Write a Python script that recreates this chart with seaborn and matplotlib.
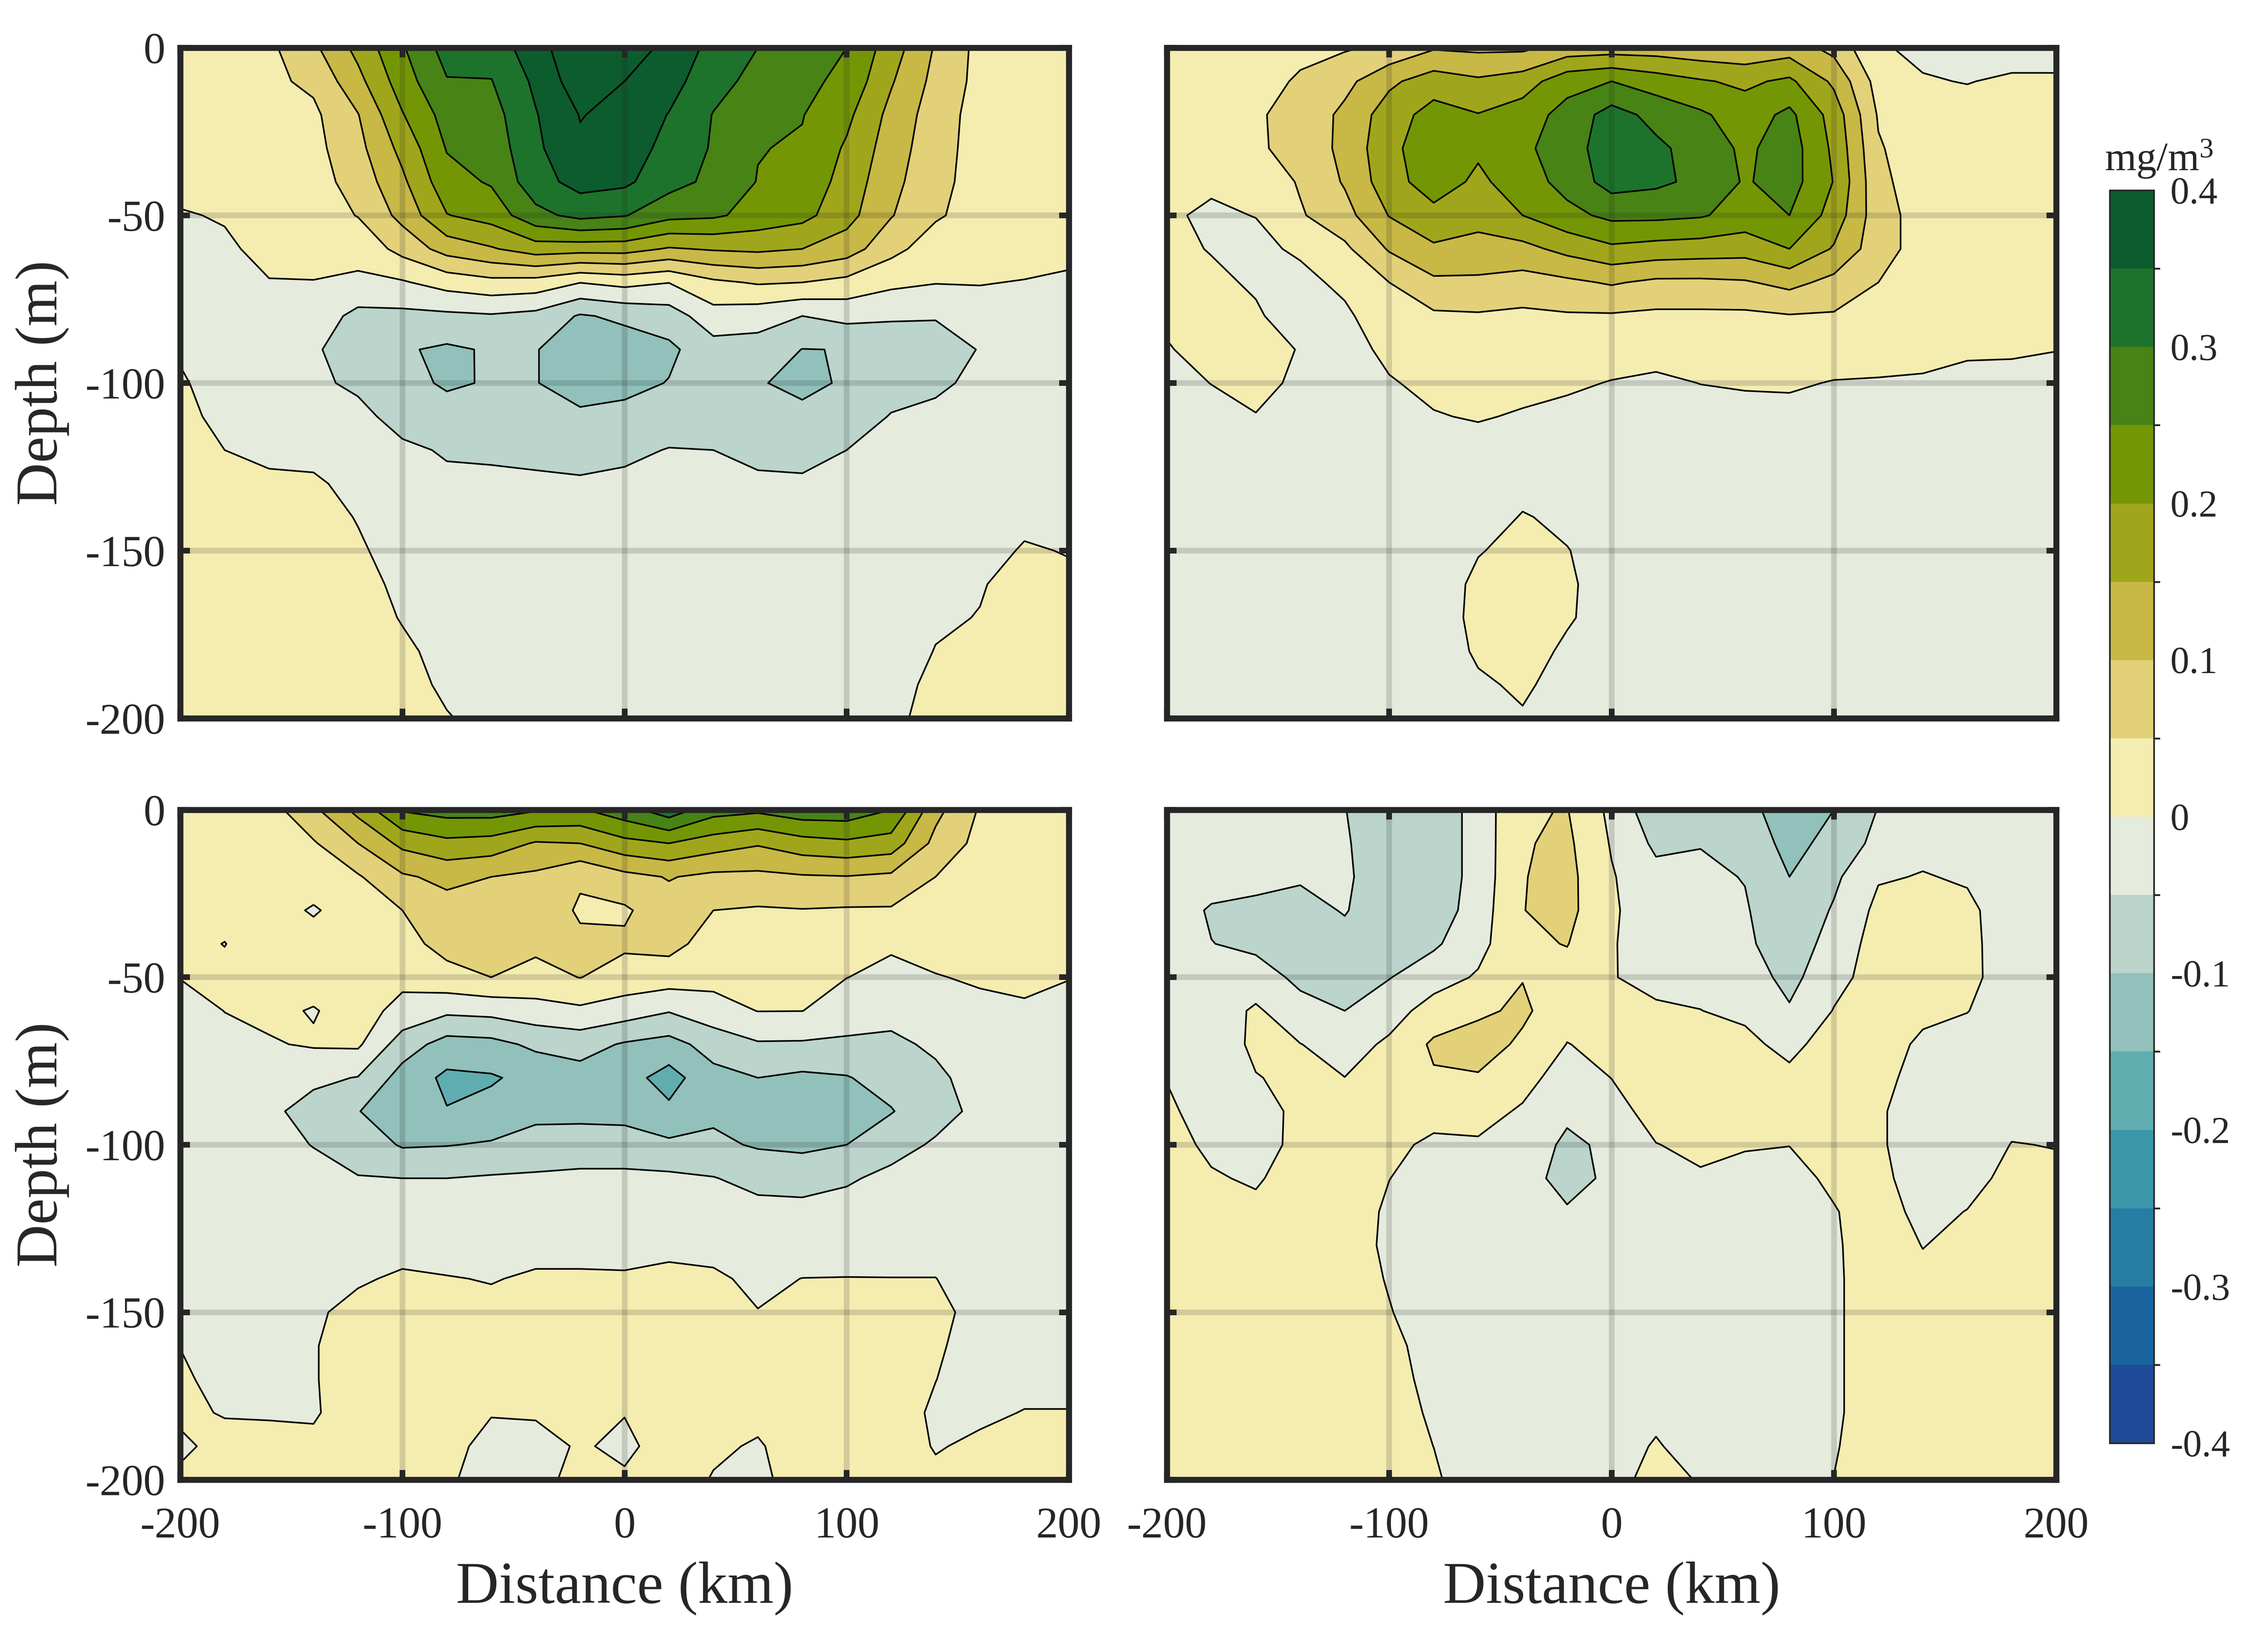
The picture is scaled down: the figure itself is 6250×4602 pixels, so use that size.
import numpy as np
import matplotlib
matplotlib.use('Agg')
import matplotlib.pyplot as plt
from matplotlib.colors import BoundaryNorm, ListedColormap
from matplotlib.cm import ScalarMappable
import seaborn as sns

# grid of the sections
distance = [-200, -180, -160, -140, -120, -100, -80, -60, -40, -20, 0, 20, 40, 60, 80, 100, 120, 140, 160, 180, 200]
depth = [0, -10, -20, -30, -40, -50, -60, -70, -80, -90, -100, -110, -120, -130, -140, -150, -160, -170, -180, -190, -200]

# each inner list is one distance column, from the surface down (mg/m3)
panel_a = [
    [.02, .02, .02, .02, .016, -.004, -.02, -.02, -.02, -.008, .008, .015, .02, .02, .02, .02, .02, .02, .02, .02, .02],
    [.02, .02, .02, .02, .012, .004, -.008, -.02, -.025, -.03, -.03, -.015, 0, .01, .02, .02, .02, .02, .02, .02, .02],
    [.04, .04, .03, .03, .03, .025, .014, -.002, -.02, -.035, -.035, -.03, -.01, .008, .02, .02, .02, .02, .02, .02, .02],
    [.09, .06, .04, .035, .03, .025, .012, -.001, -.02, -.045, -.04, -.035, -.012, .006, .015, .02, .02, .02, .02, .02, .02],
    [.165, .135, .098, .085, .07, .052, .015, -.008, -.065, -.07, -.06, -.035, -.02, -.012, -.002, .005, .015, .015, .015, .015, .015],
    [.245, .226, .197, .165, .14, .115, .067, -.005, -.063, -.095, -.088, -.07, -.04, -.025, -.02, -.015, -.01, -.002, .006, .012, .015],
    [.32, .297, .27, .253, .232, .198, .12, .02, -.06, -.108, -.105, -.085, -.055, -.04, -.03, -.025, -.02, -.015, -.01, -.006, .002],
    [.325, .298, .28, .27, .255, .22, .145, .035, -.055, -.095, -.097, -.075, -.058, -.04, -.03, -.025, -.02, -.018, -.015, -.012, -.01],
    [.375, .36, .347, .34, .33, .285, .175, .03, -.065, -.098, -.098, -.085, -.065, -.04, -.03, -.025, -.02, -.018, -.016, -.015, -.015],
    [.45, .43, .402, .393, .368, .315, .17, .001, -.105, -.125, -.125, -.09, -.065, -.045, -.03, -.025, -.02, -.02, -.02, -.02, -.02],
    [.43, .40, .387, .375, .36, .303, .17, .015, -.09, -.125, -.115, -.085, -.06, -.04, -.03, -.025, -.02, -.02, -.02, -.02, -.02],
    [.385, .37, .348, .335, .318, .265, .145, .001, -.075, -.11, -.098, -.075, -.048, -.035, -.03, -.025, -.02, -.02, -.02, -.02, -.02],
    [.335, .317, .298, .295, .288, .258, .155, .04, -.02, -.07, -.08, -.07, -.05, -.035, -.03, -.025, -.02, -.02, -.02, -.02, -.02],
    [.30, .285, .265, .252, .248, .232, .16, .055, -.03, -.07, -.097, -.08, -.065, -.04, -.03, -.025, -.02, -.02, -.02, -.02, -.02],
    [.272, .262, .252, .245, .235, .215, .15, .05, -.05, -.101, -.11, -.09, -.068, -.042, -.03, -.025, -.02, -.02, -.02, -.02, -.02],
    [.25, .238, .212, .193, .18, .168, .125, .035, -.035, -.099, -.095, -.07, -.05, -.038, -.03, -.025, -.02, -.02, -.018, -.016, -.015],
    [.175, .155, .135, .125, .115, .103, .065, .012, -.045, -.075, -.065, -.048, -.035, -.03, -.025, -.02, -.02, -.018, -.015, -.012, -.008],
    [.095, .085, .075, .07, .065, .056, .025, .002, -.047, -.07, -.058, -.04, -.03, -.025, -.02, -.015, -.01, -.004, .001, .008, .012],
    [.035, .035, .03, .03, .03, .03, .02, .002, -.02, -.048, -.04, -.03, -.02, -.015, -.012, -.008, -.002, .001, .008, .012, .015],
    [.02, .02, .02, .02, .02, .02, .02, -.002, -.02, -.03, -.03, -.025, -.02, -.012, -.005, .002, .01, .015, .02, .02, .02],
    [.01, .01, .01, .01, .01, .01, .01, -.006, -.02, -.03, -.03, -.025, -.02, -.015, -.01, -.001, .004, .01, .015, .015, .015],
]

panel_b = [
    [.02, .02, .02, .02, .012, .005, .01, .015, .005, -.002, -.01, -.015, -.015, -.015, -.015, -.015, -.015, -.015, -.015, -.015, -.015],
    [.025, .025, .025, .02, .006, -.006, -.002, .008, .015, .01, .0005, -.01, -.02, -.02, -.02, -.02, -.02, -.02, -.02, -.02, -.02],
    [.03, .035, .045, .045, .015, .001, -.012, -.005, .005, .015, .015, -.002, -.015, -.02, -.02, -.02, -.02, -.02, -.02, -.02, -.02],
    [.04, .055, .065, .062, .055, .045, .008, -.015, -.02, -.002, -.01, -.02, -.02, -.02, -.02, -.02, -.02, -.02, -.02, -.02, -.02],
    [.045, .085, .112, .115, .105, .082, .04, .012, -.01, -.02, -.02, -.02, -.02, -.02, -.02, -.02, -.02, -.02, -.02, -.02, -.02],
    [.06, .14, .175, .185, .18, .152, .105, .05, .035, .012, -.004, -.015, -.02, -.02, -.02, -.02, -.02, -.02, -.02, -.02, -.02],
    [.095, .175, .22, .235, .225, .185, .142, .09, .042, .03, .012, -.003, -.015, -.02, -.02, -.02, -.02, -.02, -.02, -.02, -.02],
    [.09, .158, .202, .208, .19, .165, .135, .09, .045, .035, .02, .004, -.02, -.025, -.015, -.002, .008, .01, .005, -.005, -.015],
    [.09, .175, .225, .24, .225, .2, .135, .08, .04, .03, .015, -.005, -.015, -.01, .002, .01, .015, .015, .012, .005, -.003],
    [.12, .232, .268, .275, .268, .235, .165, .09, .045, .03, .007, -.012, -.018, -.012, -.006, .001, .004, .003, -.005, -.012, -.018],
    [.125, .25, .32, .33, .32, .262, .19, .105, .045, .02, -.002, -.01, -.012, -.012, -.012, -.012, -.012, -.012, -.012, -.012, -.012],
    [.125, .225, .285, .31, .31, .262, .18, .09, .04, .012, -.006, -.012, -.012, -.012, -.012, -.012, -.012, -.012, -.012, -.012, -.012],
    [.115, .205, .258, .28, .288, .255, .175, .09, .04, .015, .0005, -.012, -.012, -.012, -.012, -.012, -.012, -.012, -.012, -.012, -.012],
    [.11, .19, .225, .24, .245, .23, .17, .095, .04, .025, .003, -.01, -.012, -.012, -.012, -.012, -.012, -.012, -.012, -.012, -.012],
    [.125, .21, .262, .275, .272, .25, .20, .115, .047, .03, .005, -.012, -.012, -.012, -.012, -.012, -.012, -.012, -.012, -.012, -.012],
    [.085, .14, .18, .19, .198, .18, .145, .085, .045, .02, -.002, -.012, -.012, -.012, -.012, -.012, -.012, -.012, -.012, -.012, -.012],
    [.003, .03, .045, .055, .062, .07, .07, .05, .03, .01, -.002, -.012, -.012, -.012, -.012, -.012, -.012, -.012, -.012, -.012, -.012],
    [-.006, .002, .012, .02, .025, .03, .03, .025, .015, .005, -.002, -.012, -.012, -.012, -.012, -.012, -.012, -.012, -.012, -.012, -.012],
    [-.012, -.001, .01, .02, .02, .02, .02, .02, .012, .002, -.004, -.01, -.012, -.012, -.012, -.012, -.012, -.012, -.012, -.012, -.012],
    [-.012, .004, .015, .02, .02, .02, .02, .02, .012, .002, -.005, -.012, -.012, -.012, -.012, -.012, -.012, -.012, -.012, -.012, -.012],
    [-.012, .004, .012, .015, .015, .015, .015, .015, .012, .0005, -.008, -.012, -.012, -.012, -.012, -.012, -.012, -.012, -.012, -.012, -.012],
]

panel_c = [
    [.015, .015, .015, .015, .012, .001, -.015, -.02, -.02, -.02, -.02, -.02, -.02, -.02, -.02, -.015, -.0005, .005, .003, -.003, .003],
    [.015, .015, .015, .015, -.001, .01, .0005, -.01, -.015, -.02, -.02, -.02, -.02, -.02, -.018, -.015, -.012, -.01, -.001, .005, .01],
    [.03, .03, .025, .025, .025, .02, .01, -.004, -.02, -.04, -.03, -.025, -.022, -.02, -.018, -.015, -.012, -.01, -.003, .01, .015],
    [.09, .045, .03, -.006, .025, .02, -.003, .005, -.04, -.068, -.052, -.03, -.025, -.02, -.015, -.005, -.002, -.002, -.003, .006, .01],
    [.165, .10, .045, .03, .025, .02, .02, .008, -.052, -.098, -.07, -.048, -.03, -.02, -.004, .01, .015, .015, .015, .015, .015],
    [.255, .163, .093, .05, .035, .012, -.015, -.075, -.12, -.135, -.105, -.05, -.03, -.012, .005, .012, .015, .015, .015, .015, .015],
    [.27, .187, .113, .08, .065, .035, -.04, -.12, -.16, -.148, -.102, -.05, -.035, -.018, .002, .012, .015, .015, .015, .012, .005],
    [.272, .18, .10, .085, .07, .05, -.035, -.115, -.155, -.135, -.095, -.045, -.03, -.015, -.002, .01, .012, .012, .002, -.012, -.015],
    [.255, .145, .09, .075, .06, .035, -.02, -.09, -.135, -.11, -.085, -.042, -.03, -.012, .005, .01, .012, .01, .003, -.01, -.012],
    [.245, .15, .055, .045, .058, .051, -.01, -.08, -.12, -.115, -.075, -.04, -.028, -.012, .005, .01, .012, .012, .01, .003, .012],
    [.28, .185, .085, .043, .058, .03, -.025, -.105, -.13, -.118, -.075, -.04, -.03, -.012, .004, .01, .01, .01, .001, -.006, .004],
    [.33, .20, .103, .08, .065, .025, -.047, -.118, -.17, -.14, -.09, -.04, -.025, -.008, .008, .012, .015, .015, .015, .012, .015],
    [.27, .175, .088, .05, .03, .015, -.02, -.08, -.115, -.11, -.09, -.048, -.03, -.012, .006, .012, .012, .012, .01, .005, -.002],
    [.26, .155, .088, .045, .035, .025, .001, -.055, -.10, -.125, -.105, -.065, -.035, -.02, -.008, .001, .012, .012, .008, -.003, -.008],
    [.28, .18, .095, .048, .04, .03, .0005, -.056, -.11, -.13, -.11, -.07, -.035, -.02, .0005, .012, .015, .015, .015, .015, .015],
    [.28, .19, .098, .045, .025, .0005, -.02, -.06, -.103, -.125, -.10, -.055, -.035, -.018, .001, .012, .015, .015, .015, .015, .015],
    [.25, .178, .09, .045, .005, -.01, -.035, -.06, -.08, -.103, -.065, -.04, -.025, -.012, .0005, .012, .015, .015, .015, .015, .015],
    [.115, .085, .05, .035, .015, -.002, -.02, -.042, -.06, -.065, -.045, -.03, -.02, -.012, .0005, .008, .005, .0005, -.005, -.002, .006],
    [.045, .035, .03, .025, .015, .005, -.01, -.02, -.03, -.04, -.03, -.025, -.02, -.018, -.015, -.01, -.015, -.015, -.005, .005, .012],
    [.015, .015, .015, .015, .015, .005, -.003, -.02, -.02, -.02, -.02, -.02, -.02, -.02, -.015, -.015, -.012, -.008, .001, .01, .012],
    [.01, .01, .01, .01, .01, .001, -.01, -.02, -.02, -.02, -.02, -.02, -.02, -.02, -.015, -.015, -.012, -.008, .001, .01, .012],
]

panel_d = [
    [-.02, -.02, -.02, -.02, -.02, -.02, -.02, -.012, -.002, .01, .015, .02, .02, .02, .02, .02, .02, .02, .02, .02, .02],
    [-.02, -.02, -.025, -.056, -.049, -.035, -.03, -.03, -.03, -.025, -.008, .004, .012, .02, .02, .02, .02, .02, .02, .02, .02],
    [-.02, -.025, -.04, -.058, -.06, -.03, .008, .01, -.002, -.025, -.03, -.005, .01, .02, .02, .02, .02, .02, .02, .02, .02],
    [-.02, -.035, -.045, -.065, -.07, -.06, -.035, .001, .01, .015, .02, .02, .02, .02, .02, .02, .02, .02, .02, .02, .02],
    [-.049, -.045, -.042, -.047, -.065, -.075, -.05, -.02, .0005, .015, .02, .02, .02, .02, .02, .02, .02, .02, .02, .02, .02],
    [-.075, -.08, -.08, -.08, -.07, -.052, -.02, .008, .02, .02, .01, .0005, -.006, -.008, -.003, .002, .01, .015, .015, .015, .015],
    [-.085, -.085, -.085, -.08, -.058, -.02, .02, .058, .045, .015, -.008, -.015, -.02, -.02, -.02, -.02, -.015, -.012, -.005, -.0002, .005],
    [-.03, -.03, -.03, -.025, -.015, .005, .04, .075, .045, .015, -.005, -.015, -.02, -.02, -.02, -.02, -.02, -.02, -.02, -.02, -.02],
    [.045, .046, .048, .049, .04, .048, .06, .04, .015, -.005, -.02, -.03, -.03, -.03, -.025, -.02, -.02, -.02, -.02, -.02, -.02],
    [.052, .06, .065, .065, .052, .03, .015, -.001, -.02, -.04, -.06, -.068, -.045, -.03, -.025, -.02, -.02, -.02, -.02, -.02, -.02],
    [-.012, -.004, .004, .006, .003, .002, .015, .01, .0005, -.015, -.04, -.04, -.025, -.02, -.02, -.015, -.015, -.012, -.012, -.01, -.01],
    [-.085, -.06, -.035, -.025, -.02, -.012, .006, .025, .03, .015, -.001, -.012, -.015, -.015, -.015, -.015, -.012, -.01, -.005, .002, .01],
    [-.07, -.052, -.04, -.03, -.02, -.01, .0005, .015, .025, .02, .008, -.004, -.012, -.015, -.015, -.015, -.015, -.015, -.012, -.01, -.002],
    [-.085, -.07, -.052, -.045, -.04, -.025, -.008, .01, .02, .015, .002, -.008, -.012, -.015, -.015, -.015, -.015, -.015, -.015, -.015, -.015],
    [-.125, -.115, -.10, -.09, -.08, -.065, -.045, -.012, .01, .012, .0005, -.01, -.012, -.015, -.015, -.015, -.015, -.015, -.015, -.015, -.015],
    [-.10, -.085, -.06, -.045, -.03, -.015, .002, .02, .02, .02, .015, .006, -.002, -.005, -.006, -.006, -.006, -.006, -.006, -.003, .0005],
    [-.048, -.035, -.004, .012, .02, .02, .02, .02, .012, .005, .005, .008, .015, .02, .02, .02, .02, .02, .02, .02, .02],
    [-.02, -.01, .002, .015, .02, .02, .01, -.008, -.015, -.02, -.02, -.015, -.01, -.001, .008, .015, .02, .02, .02, .02, .02],
    [-.02, -.015, -.004, .008, .01, .008, .001, -.015, -.02, -.02, -.02, -.012, .001, .01, .015, .02, .02, .02, .02, .02, .02],
    [-.02, -.02, -.02, -.02, -.02, -.015, -.02, -.02, -.02, -.01, .001, .01, .015, .02, .02, .02, .02, .02, .02, .02, .02],
    [-.02, -.02, -.02, -.02, -.02, -.02, -.02, -.02, -.02, -.01, -.001, .006, .012, .02, .02, .02, .02, .02, .02, .02, .02],
]

levels = [-.4, -.35, -.3, -.25, -.2, -.15, -.1, -.05, 0, .05, .1, .15, .2, .25, .3, .35, .4]
level_colors = ['#204b99', '#1a659d', '#277da3', '#3b97a9', '#60adb0', '#91c1ba', '#bbd4cc', '#e5ebdd',
                '#f5ecb0', '#e2d179', '#c8b845', '#a0a61b', '#749605', '#478315', '#1d732b', '#0c5c2d']

x_ticks = [-200, -100, 0, 100, 200]
x_tick_labels = ['-200', '-100', '0', '100', '200']
y_ticks = [0, -50, -100, -150, -200]
y_tick_labels = ['0', '-50', '-100', '-150', '-200']
cbar_ticks = [-.4, -.3, -.2, -.1, 0, .1, .2, .3, .4]
cbar_tick_labels = ['-0.4', '-0.3', '-0.2', '-0.1', '0', '0.1', '0.2', '0.3', '0.4']

sns.set_style('ticks')
plt.rcParams['font.family'] = ['Liberation Serif', 'DejaVu Serif']
plt.rcParams['mathtext.fontset'] = 'custom'
plt.rcParams['mathtext.rm'] = 'Liberation Serif'
plt.rcParams['mathtext.default'] = 'rm'

DARK = '#262626'
W, H = 6250, 4602

cmap = ListedColormap(sns.color_palette(level_colors))
cmap.set_over(level_colors[-1])
norm = BoundaryNorm(levels, 16)

fig = plt.figure(figsize=(W / 600, H / 600), dpi=600)


def make_axes(x0, y0, x1, y1):
    return fig.add_axes([x0 / W, 1 - y1 / H, (x1 - x0) / W, (y1 - y0) / H])


def draw_panel(ax, values, left, bottom):
    z = np.array(values).T
    ax.contourf(distance, depth, z, levels=levels, cmap=cmap, norm=norm, extend='max')
    ax.contour(distance, depth, z, levels=levels, colors='k', linewidths=0.55, linestyles='solid')
    ax.set_xlim(-200, 200)
    ax.set_ylim(-200, 0)
    ax.set_xticks(x_ticks, labels=x_tick_labels if bottom else [])
    ax.set_yticks(y_ticks, labels=y_tick_labels if left else [])
    ax.grid(True, color=DARK, alpha=0.17, linewidth=1.9)
    ax.set_axisbelow(False)
    ax.tick_params(direction='in', length=3.2, width=1.9, color=DARK, labelcolor=DARK, labelsize=14.6,
                   top=True, right=True, pad=5)
    ax.tick_params(axis='x', pad=9)
    sns.despine(ax=ax, top=False, right=False)
    for s in ax.spines.values():
        s.set_linewidth(2.0)
        s.set_color(DARK)
    if left:
        ax.set_ylabel('Depth (m)', fontsize=19.8, color=DARK)
        ax.yaxis.set_label_coords(-0.125, 0.5)
    if bottom:
        ax.set_xlabel('Distance (km)', fontsize=19.8, color=DARK)
        ax.xaxis.set_label_coords(0.5, -0.122)


draw_panel(make_axes(502, 133, 2977, 2001), panel_a, True, False)
draw_panel(make_axes(3250, 133, 5727, 2001), panel_b, False, False)
draw_panel(make_axes(502, 2256, 2977, 4122), panel_c, True, True)
draw_panel(make_axes(3250, 2256, 5727, 4122), panel_d, False, True)

# colorbar on the right, ticks pointing into the bar
cax = make_axes(5876, 530, 5999, 4020)
cb = fig.colorbar(ScalarMappable(norm=norm, cmap=cmap), cax=cax, ticks=cbar_ticks, spacing='uniform')
cb.ax.set_yticklabels(cbar_tick_labels)
cb.ax.tick_params(direction='in', length=4.1, width=0.4, color='k', labelcolor=DARK, labelsize=12.6, pad=5.5)
cb.outline.set_linewidth(0.55)
cb.outline.set_edgecolor(DARK)
fig.text(6013 / W, 1 - 475 / H, 'mg/m$^3$', fontsize=13.5, color=DARK, ha='center', va='baseline')

plt.savefig('out.png', dpi=600)
